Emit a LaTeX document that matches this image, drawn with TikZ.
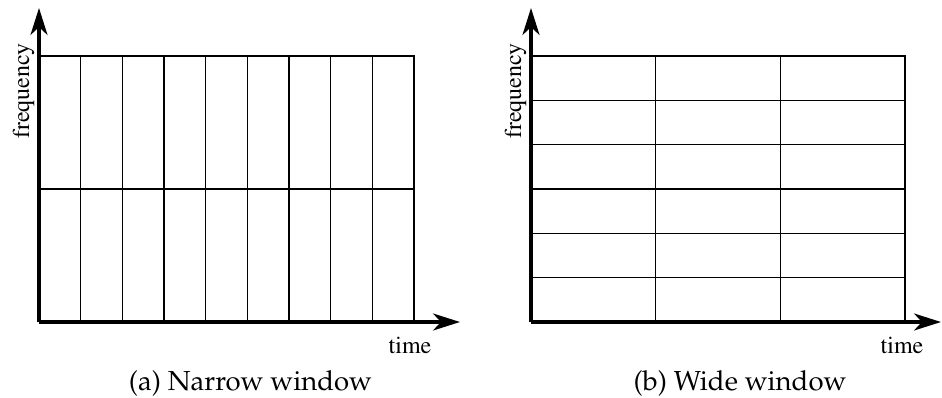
\documentclass[tikz,border=0pt]{standalone}
\usepackage[T1]{fontenc}
\usetikzlibrary{arrows.meta}
\tikzset{
  axis/.style={line width=3.2pt, -{Stealth[length=27pt,width=17pt,inset=8pt]}},
  gridline/.style={line width=1.5pt, line cap=rect},
  axislabel/.style={font=\fontfamily{ptm}\fontsize{24}{28}\selectfont, inner sep=0pt, anchor=base},
  caption/.style={font=\fontfamily{ppl}\fontsize{27.5}{33}\selectfont, inner sep=0pt, anchor=base},
}
\begin{document}
\begin{tikzpicture}[x=1pt,y=-1pt]
  \useasboundingbox (0,0) rectangle (942,398);

  % ---- (a) narrow window: 9 time slots x 2 frequency bands ----
  \coordinate (oa) at (39,322);
  \coordinate (ya) at (39,8);
  \coordinate (xa) at (460,322);
  \draw[gridline] (39,56) -- (414,56);
  \draw[gridline] (39,189) -- (414,189);
  \foreach \i in {1,...,9}
    \draw[gridline] ({39+\i*41.667},56) -- ({39+\i*41.667},322);
  \draw[axis] (oa) -- (ya);
  \draw[axis] (oa) -- (xa);
  \node[axislabel, rotate=90] (fa) at (29,91) {frequency};
  \node[axislabel] (ta) at (410,353) {time};
  \node[caption] (capa) at (250.5,390) {(a) Narrow window};

  % ---- (b) wide window: 3 time slots x 6 frequency bands ----
  \coordinate (ob) at (531,322);
  \coordinate (yb) at (531,8);
  \coordinate (xb) at (941,322);
  \foreach \j in {1,...,6}
    \draw[gridline] (531,{322-\j*44.333}) -- (905,{322-\j*44.333});
  \foreach \i in {1,...,3}
    \draw[gridline] ({531+\i*124.667},56) -- ({531+\i*124.667},322);
  \draw[axis] (ob) -- (yb);
  \draw[axis] (ob) -- (xb);
  \node[axislabel, rotate=90] (fb) at (521,91) {frequency};
  \node[axislabel] (tb) at (902,353) {time};
  \node[caption] (capb) at (740,390) {(b) Wide window};
\end{tikzpicture}
\end{document}
